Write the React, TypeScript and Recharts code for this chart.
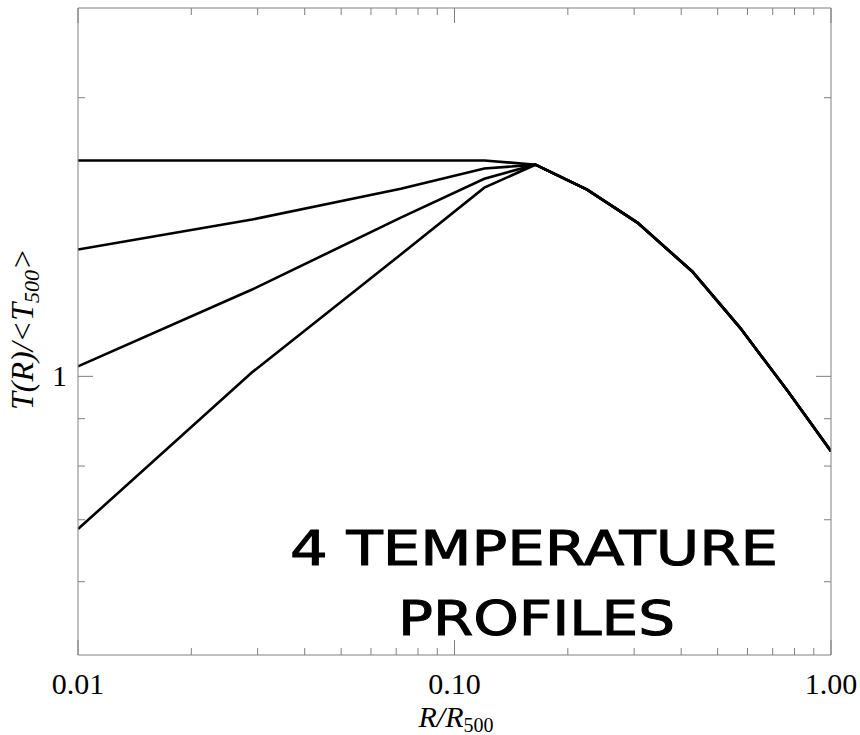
import { LineChart, Line, XAxis, YAxis } from "recharts"

const radius = [0.01, 0.029, 0.072, 0.12, 0.164, 0.225, 0.306, 0.428, 0.573, 0.769, 1.0]

// inner part of each profile (up to R = 0.12), all join the same outer tail
const innerFlat = [1.711, 1.711, 1.711, 1.711]
const innerMild = [1.371, 1.477, 1.595, 1.677]
const innerMid = [1.025, 1.241, 1.484, 1.635]
const innerSteep = [0.684, 1.01, 1.354, 1.599]
const outerTail = [1.693, 1.591, 1.466, 1.298, 1.129, 0.963, 0.83]

const xTicks = [0.01, 0.02, 0.03, 0.04, 0.05, 0.06, 0.07, 0.08, 0.09, 0.1, 0.2, 0.3, 0.4, 0.5, 0.6, 0.7, 0.8, 0.9, 1]
const xMajorLabels: Record<string, string> = { "0.01": "0.01", "0.1": "0.10", "1": "1.00" }
const yTicks = [0.6, 0.7, 0.8, 0.9, 1, 2]
const yMajorLabels: Record<string, string> = { "1": "1" }

const profiles = [
  { key: "flat", inner: innerFlat },
  { key: "mild", inner: innerMild },
  { key: "mid", inner: innerMid },
  { key: "steep", inner: innerSteep },
]

const data = radius.map((r, i) => {
  const row: Record<string, number> = { r }
  profiles.forEach((p) => {
    const vals = [...p.inner, ...outerTail]
    row[p.key] = vals[i]
  })
  return row
})

const AXIS = "#808080"
const SERIF = "'Liberation Serif', 'Times New Roman', serif"
const MAJOR = 15
const MINOR = 7

const BottomTick = ({ x, y, payload }: any) => {
  const label = xMajorLabels[String(payload.value)]
  return (
    <g>
      <line x1={x} x2={x} y1={y} y2={y - (label ? MAJOR : MINOR)} stroke={AXIS} />
      {label && (
        <text x={x} y={y + 39} textAnchor="middle" fontFamily={SERIF} fontSize={30} fill="#000">
          {label}
        </text>
      )}
    </g>
  )
}

const TopTick = ({ x, y, payload }: any) => {
  const major = xMajorLabels[String(payload.value)]
  return <line x1={x} x2={x} y1={y} y2={y + (major ? MAJOR : MINOR)} stroke={AXIS} />
}

const LeftTick = ({ x, y, payload }: any) => {
  const label = yMajorLabels[String(payload.value)]
  return (
    <g>
      <line x1={x} x2={x + (label ? MAJOR : MINOR)} y1={y} y2={y} stroke={AXIS} />
      {label && (
        <text x={x - 11} y={y + 10} textAnchor="end" fontFamily={SERIF} fontSize={30} fill="#000">
          {label}
        </text>
      )}
    </g>
  )
}

const RightTick = ({ x, y, payload }: any) => {
  const major = yMajorLabels[String(payload.value)]
  return <line x1={x} x2={x - (major ? MAJOR : MINOR)} y1={y} y2={y} stroke={AXIS} />
}

export default function App() {
  return (
    <div style={{ position: "relative", width: 860, height: 735 }}>
      <style>{"body { margin: 0; }"}</style>
      <LineChart width={860} height={735} data={data} margin={{ top: 7, right: 28, bottom: 79, left: 77 }}>
        <XAxis
          dataKey="r"
          type="number"
          scale="log"
          domain={[0.01, 1]}
          allowDataOverflow
          ticks={xTicks}
          interval={0}
          height={1}
          tickSize={0}
          tickMargin={0}
          tickLine={false}
          axisLine={{ stroke: AXIS }}
          tick={<BottomTick />}
        />
        <XAxis
          xAxisId="top"
          orientation="top"
          dataKey="r"
          type="number"
          scale="log"
          domain={[0.01, 1]}
          allowDataOverflow
          ticks={xTicks}
          interval={0}
          height={1}
          tickSize={0}
          tickMargin={0}
          tickLine={false}
          axisLine={{ stroke: AXIS }}
          tick={<TopTick />}
        />
        <YAxis
          type="number"
          scale="log"
          domain={[0.5, 2.5]}
          allowDataOverflow
          ticks={yTicks}
          interval={0}
          width={1}
          tickSize={0}
          tickMargin={0}
          tickLine={false}
          axisLine={{ stroke: AXIS }}
          tick={<LeftTick />}
        />
        <YAxis
          yAxisId="right"
          orientation="right"
          type="number"
          scale="log"
          domain={[0.5, 2.5]}
          allowDataOverflow
          ticks={yTicks}
          interval={0}
          width={1}
          tickSize={0}
          tickMargin={0}
          tickLine={false}
          axisLine={{ stroke: AXIS }}
          tick={<RightTick />}
        />
        {profiles.map((p) => (
          <Line
            key={p.key}
            type="linear"
            dataKey={p.key}
            stroke="#000"
            strokeWidth={2.6}
            dot={false}
            isAnimationActive={false}
          />
        ))}
      </LineChart>

      <svg
        width={860}
        height={735}
        style={{ position: "absolute", left: 0, top: 0, pointerEvents: "none" }}
      >
        <text
          transform="translate(33 410) rotate(-90)"
          fontFamily={SERIF}
          fontStyle="italic"
          fontSize={32}
          fill="#000"
        >
          T(R)/&lt;T
          <tspan fontSize={22} dy={6}>500</tspan>
          <tspan dy={-6}>&gt;</tspan>
        </text>
        <text x={456} y={727} textAnchor="middle" fontFamily={SERIF} fontStyle="italic" fontSize={30} fill="#000">
          R/R
          <tspan fontSize={20} dy={5} fontStyle="normal">500</tspan>
        </text>
        <text
          x={290}
          y={565}
          fontFamily="'DejaVu Sans', sans-serif"
          fontSize={48}
          fill="#000"
          stroke="#000"
          strokeWidth={1}
          textLength={488}
          lengthAdjust="spacingAndGlyphs"
        >
          4 TEMPERATURE
        </text>
        <text
          x={398}
          y={635}
          fontFamily="'DejaVu Sans', sans-serif"
          fontSize={48}
          fill="#000"
          stroke="#000"
          strokeWidth={1}
          textLength={277}
          lengthAdjust="spacingAndGlyphs"
        >
          PROFILES
        </text>
      </svg>
    </div>
  )
}
